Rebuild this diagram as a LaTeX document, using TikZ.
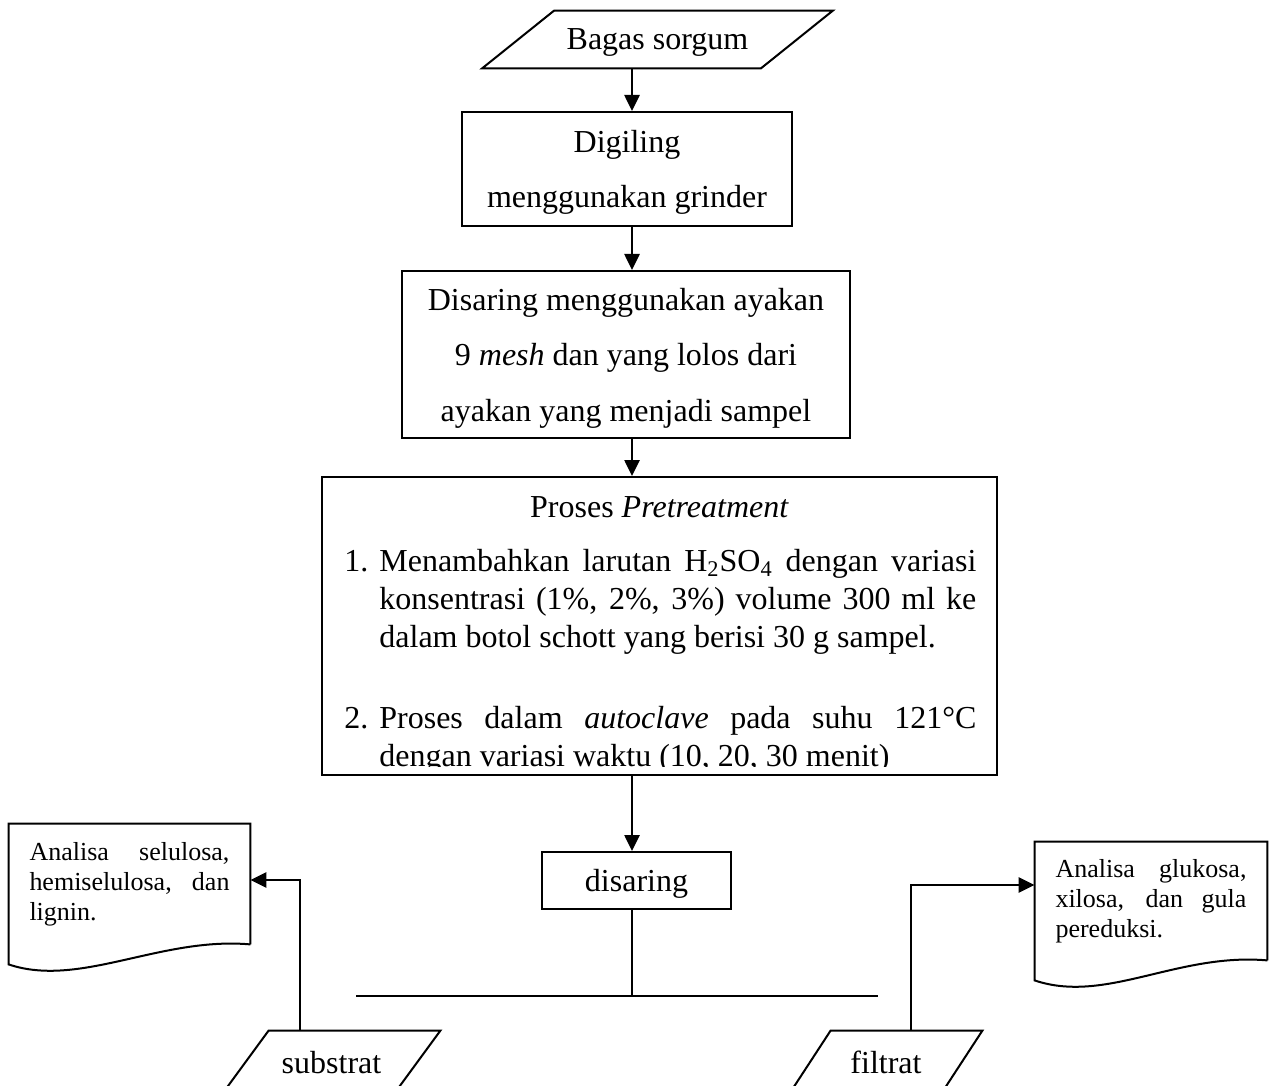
\documentclass[tikz,border=0pt]{standalone}
\usepackage{fontspec}
\setmainfont{Liberation Serif}
\usetikzlibrary{arrows.meta,calc}

\begin{document}
\begin{tikzpicture}[
            x=0.5pt, y=-0.5pt,
            proses/.style={draw, line width=1pt, inner sep=0pt, align=center, text depth=0pt,
                font=\fontsize{16}{27.5}\selectfont},
            io/.style={inner sep=0pt, text depth=0pt, font=\fontsize{16}{19}\selectfont},
            dokumen/.style={inner xsep=10.25pt, inner ysep=0pt, align=justify,
                font=\fontsize{13}{15}\selectfont},
            panah/.style={line width=1.3pt, -{Triangle[length=8pt,width=7.5pt]}},
            garis/.style={line width=1pt},
        ]
            \useasboundingbox (0,0) rectangle (1271,1086);
            % 主轴
            \coordinate (sumbu) at (632,0);

            \node[io, minimum width=139pt, minimum height=28.5pt] (bagas) at (657.5,39.5) {Bagas sorgum};
            \draw[garis] ([xshift=18pt]bagas.north west) -- ([xshift=18pt]bagas.north east)
                -- ([xshift=-18pt]bagas.south east) -- ([xshift=-18pt]bagas.south west) -- cycle;

            \node[proses, minimum width=165pt, minimum height=57pt] (giling) at (627,169)
                {Digiling\\menggunakan grinder};
            \node[proses, minimum width=224pt, minimum height=83.5pt, font=\fontsize{16}{27.75}\selectfont]
                (saring) at (626,354.5)
                {Disaring menggunakan ayakan\\9 \textit{mesh} dan yang lolos dari\\ayakan yang menjadi sampel};

            % 预处理
            \node[draw, line width=1pt, minimum width=337.5pt, minimum height=149pt, inner sep=0pt]
                (pretreat) at (659.5,626) {};
            \node[anchor=base, font=\fontsize{16}{19}\selectfont] (judul) at (659.5,517)
                {Proses \textit{Pretreatment}};
            \begin{scope}
                \clip (322,477) rectangle (997,766);
                \node[anchor=north west, inner sep=0pt, text width=316pt, align=justify,
                    font=\fontsize{16}{19}\selectfont] (langkah) at (344,549) {%
                    {\hangindent=17.5pt\hangafter=1\noindent\makebox[17.5pt][l]{1.}Menambahkan larutan
                    H\textsubscript{2}SO\textsubscript{4} dengan variasi\linebreak
                    konsentrasi (1\%, 2\%, 3\%) volume 300 ml ke\linebreak
                    dalam botol schott yang berisi 30 g sampel.\par}
                    \vskip 21.5pt
                    {\hangindent=17.5pt\hangafter=1\noindent\makebox[17.5pt][l]{2.}Proses dalam
                    \textit{autoclave} pada suhu 121°C\linebreak
                    dengan variasi waktu (10, 20, 30 menit)\par}};
            \end{scope}

            \node[proses, minimum width=94.5pt, minimum height=28.5pt] (disaring) at (636.5,880.5) {disaring};

            \draw[panah] (bagas.south -| sumbu) -- (giling.north -| sumbu);
            \draw[panah] (giling.south -| sumbu) -- (saring.north -| sumbu);
            \draw[panah] (saring.south -| sumbu) -- (pretreat.north -| sumbu);
            \draw[panah] (pretreat.south -| sumbu) -- (disaring.north -| sumbu);

            % 分支
            \coordinate (cabangkiri) at (356,996);
            \coordinate (cabangkanan) at (878,996);
            \draw[garis] (disaring.south -| sumbu) -- (sumbu |- cabangkiri);
            \draw[garis] (cabangkiri) -- (cabangkanan);

            \node[io, minimum width=85.5pt, minimum height=31pt] (substrat) at (331.5,1062) {substrat};
            \draw[garis] ([xshift=11.5pt]substrat.north west) -- ([xshift=11.5pt]substrat.north east)
                -- ([xshift=-11.5pt]substrat.south east) -- ([xshift=-11.5pt]substrat.south west) -- cycle;
            \node[io, minimum width=75.5pt, minimum height=31pt] (filtrat) at (886,1062) {filtrat};
            \draw[garis] ([xshift=10.25pt]filtrat.north west) -- ([xshift=10.25pt]filtrat.north east)
                -- ([xshift=-10.25pt]filtrat.south east) -- ([xshift=-10.25pt]filtrat.south west) -- cycle;

            % 分析
            \node[dokumen, text width=100pt, minimum width=120.5pt, minimum height=60pt] (analisaA) at (129.5,884)
                {Analisa selulosa,\linebreak hemiselulosa, dan\linebreak lignin.};
            \draw[garis] (analisaA.south east) -- (analisaA.north east) -- (analisaA.north west)
                -- ([yshift=-10pt]analisaA.south west) .. controls +(71,24) and +(-90,-8) .. (analisaA.south east);
            \node[dokumen, text width=95.5pt, minimum width=116pt, minimum height=59pt] (analisaB) at (1151,901)
                {Analisa glukosa,\linebreak xilosa, dan gula\linebreak pereduksi.};
            \draw[garis] (analisaB.south east) -- (analisaB.north east) -- (analisaB.north west)
                -- ([yshift=-10pt]analisaB.south west) .. controls +(71,24) and +(-90,-8) .. (analisaB.south east);

            \coordinate (belokA) at (300,880);
            \draw[panah] (substrat.north -| belokA) -- (belokA) -- (analisaA.east |- belokA);
            \coordinate (belokB) at (911,885);
            \draw[panah] (filtrat.north -| belokB) -- (belokB) -- (analisaB.west |- belokB);

        \end{tikzpicture}
\end{document}
